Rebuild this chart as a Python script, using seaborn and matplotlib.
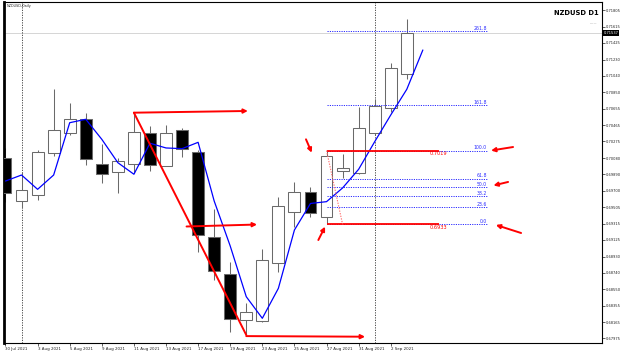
import numpy as np
import pandas as pd
import matplotlib
matplotlib.use("Agg")
import matplotlib.pyplot as plt
import matplotlib.transforms as mtransforms
import seaborn as sns

# ---------------- data ----------------
dates = ["30 Jul", "2 Aug", "3 Aug", "4 Aug", "5 Aug", "6 Aug", "9 Aug", "10 Aug",
         "11 Aug", "12 Aug", "13 Aug", "16 Aug", "17 Aug", "18 Aug", "19 Aug", "20 Aug",
         "23 Aug", "24 Aug", "25 Aug", "26 Aug", "27 Aug", "30 Aug", "31 Aug", "1 Sep",
         "2 Sep", "3 Sep"]
opens = [0.70077, 0.69575, 0.69645, 0.70136, 0.70376, 0.70533, 0.70011, 0.69914,
         0.70011, 0.70369, 0.69991, 0.70408, 0.70151, 0.69162, 0.68726, 0.68189,
         0.68178, 0.68851, 0.69454, 0.69687, 0.69388, 0.69933, 0.69909, 0.70376,
         0.70661, 0.71062]
highs = [0.70198, 0.69921, 0.70174, 0.70887, 0.70727, 0.70610, 0.70244, 0.70084,
         0.70610, 0.70455, 0.70466, 0.70428, 0.70174, 0.69482, 0.68863, 0.68384,
         0.69015, 0.69629, 0.69804, 0.69746, 0.70168, 0.70128, 0.70680, 0.70766,
         0.71194, 0.71700]
lows = [0.69571, 0.69497, 0.69590, 0.70104, 0.70349, 0.69999, 0.69785, 0.69669,
        0.69902, 0.69933, 0.69985, 0.70096, 0.68987, 0.68656, 0.68053, 0.68014,
        0.68170, 0.68753, 0.69272, 0.69388, 0.69307, 0.69844, 0.69891, 0.70349,
        0.70622, 0.71000]
closes = [0.69676, 0.69707, 0.70154, 0.70404, 0.70540, 0.70069, 0.69894, 0.70042,
          0.70381, 0.69999, 0.70376, 0.70183, 0.69176, 0.68761, 0.68201, 0.68286,
          0.68890, 0.69520, 0.69687, 0.69435, 0.70104, 0.69961, 0.70435, 0.70688,
          0.71128, 0.71537]
# moving average (shifted one bar forward)
ma_values = [0.69812, 0.69882, 0.69715, 0.69882, 0.70493, 0.70533, 0.70299, 0.70026,
             0.69891, 0.70253, 0.70198, 0.70190, 0.70264, 0.69579, 0.69053, 0.68461,
             0.68209, 0.68559, 0.69240, 0.69550, 0.69571, 0.69731, 0.69949, 0.70271,
             0.70583, 0.70883, 0.71342]
price_ticks = [0.71805, 0.71615, 0.71425, 0.71230, 0.71040, 0.70850, 0.70655, 0.70465,
               0.70275, 0.70080, 0.69890, 0.69700, 0.69505, 0.69315, 0.69125, 0.68930,
               0.68740, 0.68550, 0.68355, 0.68165, 0.67975]
x_tick_labels = ["30 Jul 2021", "3 Aug 2021", "5 Aug 2021", "9 Aug 2021", "11 Aug 2021",
                 "13 Aug 2021", "17 Aug 2021", "19 Aug 2021", "23 Aug 2021",
                 "25 Aug 2021", "27 Aug 2021", "31 Aug 2021", "2 Sep 2021"]
bid_price = 0.71537
fib_low = 0.69307
fib_high = 0.70168
fib_levels = [0.0, 23.6, 38.2, 50.0, 61.8, 100.0, 161.8, 261.8]
fib_price_texts = ["0.7019", "0.6933"]
period_separators = [1, 23]

# hand-drawn red arrows: (bar, price) tail -> head
red_arrows = [
    ((8.0, 0.70610), (15.1, 0.70630)),
    ((15.0, 0.68001), (22.4, 0.67994)),
    ((11.28, 0.69281), (15.67, 0.69304)),
    ((18.72, 0.70299), (19.08, 0.70143)),
    ((19.49, 0.69123), (19.91, 0.69279)),
    ((31.62, 0.70209), (30.25, 0.70168)),
    ((31.31, 0.69801), (30.40, 0.69760)),
    ((32.12, 0.69205), (30.55, 0.69299)),
]
red_trend = [(8.0, 0.70610), (15.0, 0.68014)]

# ---------------- figure ----------------
sns.set_theme(style="white")
plt.rcParams["font.family"] = ["DejaVu Sans"]

W, H = 625, 352
fig = plt.figure(figsize=(W / 100, H / 100), dpi=100)
ax = fig.add_axes([4 / W, 9.3 / H, (601.5 - 4) / W, (350.3 - 9.3) / H])
ax.set_facecolor("white")

n = len(opens)
df = pd.DataFrame({"date": dates, "open": opens, "high": highs, "low": lows, "close": closes})
df["idx"] = np.arange(n)
df["bull"] = df["close"] >= df["open"]
df["bottom"] = df[["open", "close"]].min(axis=1)
df["height"] = (df["close"] - df["open"]).abs().clip(lower=0.00003)

edge = "#6a6a6a"
ax.vlines(df["idx"], df["low"], df["high"], color=edge, lw=0.75, zorder=2)
bull = df[df["bull"]]
bear = df[~df["bull"]]
ax.bar(bull["idx"], bull["height"], bottom=bull["bottom"], width=0.74,
       facecolor="white", edgecolor=edge, linewidth=0.75, zorder=3)
ax.bar(bear["idx"], bear["height"], bottom=bear["bottom"], width=0.74,
       facecolor="black", edgecolor=edge, linewidth=0.75, zorder=3)

# moving average
ma_df = pd.DataFrame({"x": np.arange(len(ma_values)), "ma": ma_values})
sns.lineplot(data=ma_df, x="x", y="ma", color="#0000ff", lw=0.9, ax=ax, zorder=4)

# bid line and period separators
ax.axhline(bid_price, color="#cfcfcf", lw=0.6, zorder=1)
for s in period_separators:
    ax.axvline(s, color="#333333", lw=0.6, ls=(0, (1.5, 1.5)), zorder=1)

# fibonacci
rng = fib_high - fib_low
for lvl in fib_levels:
    p = fib_low + lvl / 100 * rng
    ax.hlines(p, 20, 30, color="#2b2bff", lw=0.7, ls=(0, (1.2, 1.2)), zorder=5)
    ax.text(30, p + 0.00003, f"{lvl:.1f}", ha="right", va="bottom", fontsize=3.3,
            color="#2b2bff", zorder=6)
ax.hlines([fib_high, fib_low], 20, 27, color="#ff0000", lw=1.3, zorder=5)
ax.text(27, fib_high - 0.00004, fib_price_texts[0], ha="center", va="top",
        fontsize=3.6, color="#ff0000")
ax.text(27, fib_low - 0.00004, fib_price_texts[1], ha="center", va="top",
        fontsize=3.6, color="#ff0000")
ax.plot([20, 21], [fib_high, fib_low], color="#ff7070", lw=0.8, ls=(0, (1.2, 1.2)), zorder=5)

# red hand-drawn lines and arrows
ax.plot([red_trend[0][0], red_trend[1][0]], [red_trend[0][1], red_trend[1][1]],
        color="#ff0000", lw=1.4, zorder=6)
for tail, head in red_arrows:
    ax.annotate("", xy=head, xytext=tail,
                arrowprops=dict(arrowstyle="-|>", color="#ff0000", lw=1.4,
                                mutation_scale=6, shrinkA=0, shrinkB=0),
                zorder=7)

# axes limits & ticks
ax.set_xlim(-0.093, 37.13)
ax.set_ylim(0.67924, 0.71906)
ax.set_xticks(np.arange(0, 25, 2))
ax.set_xticklabels(x_tick_labels)
for lbl in ax.get_xticklabels():
    lbl.set_ha("left")
ax.set_yticks(price_ticks)
ax.set_yticklabels([f"{t:.5f}" for t in price_ticks])
ax.yaxis.tick_right()
ax.tick_params(axis="y", which="both", right=True, left=False, length=2, width=0.5,
               labelsize=2.6, pad=1, colors="#222222")
ax.tick_params(axis="x", which="both", bottom=True, length=2, width=0.5,
               labelsize=2.9, pad=1, colors="#222222")
ax.set_xlabel("")
ax.set_ylabel("")
for side in ["top", "right", "bottom"]:
    ax.spines[side].set_visible(True)
    ax.spines[side].set_color("black")
    ax.spines[side].set_linewidth(0.8)
ax.spines["left"].set_visible(True)
ax.spines["left"].set_color("black")
ax.spines["left"].set_linewidth(2.0)
ax.grid(False)

# current price label
trans = mtransforms.blended_transform_factory(ax.transAxes, ax.transData)
ax.text(1.003, bid_price, f"{bid_price:.5f}", transform=trans, ha="left", va="center",
        fontsize=2.6, color="white", clip_on=False,
        bbox=dict(boxstyle="square,pad=0.25", fc="black", ec="none"))

# titles
fig.text(7 / W, 1 - 5.7 / H, "NZDUSD,Daily", ha="left", va="center", fontsize=2.4,
         color="#222222")
fig.text(599 / W, 1 - 13.3 / H, "NZDUSD D1", ha="right", va="center", fontsize=4.9,
         fontweight="bold", color="black")
fig.text(597 / W, 1 - 23.3 / H, "-----", ha="right", va="center", fontsize=3,
         color="#888888")

fig.savefig("out.png", dpi=100, facecolor="white")
